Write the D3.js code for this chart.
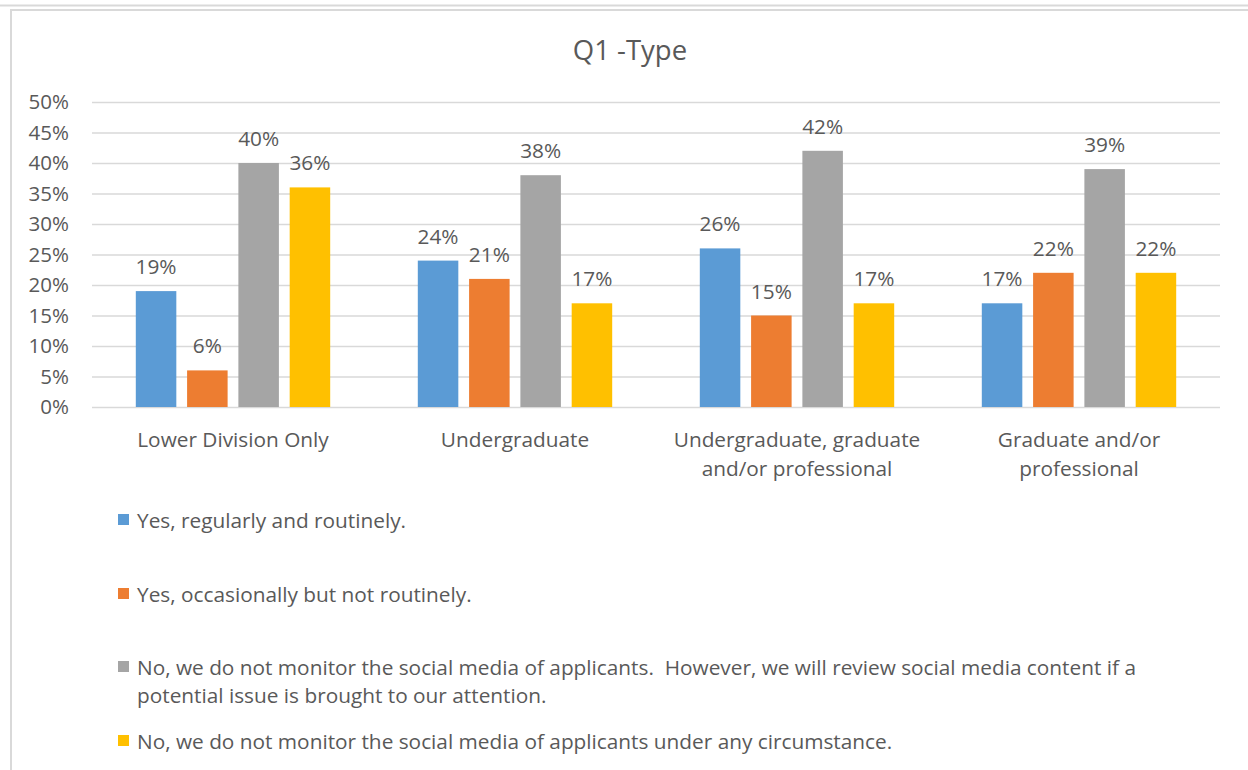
<!DOCTYPE html>
<html>
<head>
<meta charset="utf-8">
<script src="https://cdn.jsdelivr.net/npm/d3@7"></script>
<style>
  html, body { margin: 0; padding: 0; background: #fff; }
  svg { display: block; font-family: "Open Sans", sans-serif; }
  text { white-space: pre; }
</style>
</head>
<body>
<svg id="chart" width="1248" height="770"></svg>
<script>
const title = "Q1 -Type";
const categories = [
  "Lower Division Only",
  "Undergraduate",
  "Undergraduate, graduate\nand/or professional",
  "Graduate and/or\nprofessional"
];
const seriesNames = [
  "Yes, regularly and routinely.",
  "Yes, occasionally but not routinely.",
  "No, we do not monitor the social media of applicants.  However, we will review social media content if a potential issue is brought to our attention.",
  "No, we do not monitor the social media of applicants under any circumstance."
];
const seriesColors = ["#5B9BD5", "#ED7D31", "#A5A5A5", "#FFC000"];
const yesRegularly   = [19, 24, 26, 17];
const yesOccasional  = [6, 21, 15, 22];
const noButReview    = [40, 38, 42, 39];
const noNever        = [36, 17, 17, 22];
const seriesValues = [yesRegularly, yesOccasional, noButReview, noNever];
const yTicks = [0, 5, 10, 15, 20, 25, 30, 35, 40, 45, 50];

const svg = d3.select("#chart");
const textColor = "#595959";
const gridColor = "#D9D9D9";
const fs = "20.8px";

// frame
svg.append("line").attr("x1", 0).attr("x2", 1248).attr("y1", 5.5).attr("y2", 5.5)
  .attr("stroke", gridColor).attr("stroke-width", 2);
svg.append("path").attr("d", "M11,770 V10 H1248")
  .attr("fill", "none").attr("stroke", gridColor).attr("stroke-width", 2);

const plot = { left: 92, right: 1220, top: 102, bottom: 407 };

const y = d3.scaleLinear().domain([0, 50]).range([plot.bottom, plot.top]);
const x0 = d3.scaleBand().domain(d3.range(categories.length)).range([plot.left, plot.right]).padding(0);
const innerPad = (x0.bandwidth() - 194.4) / 2;
const x1 = d3.scaleBand().domain(d3.range(seriesNames.length))
  .range([innerPad, x0.bandwidth() - innerPad]).paddingInner(0.21).paddingOuter(0);

// title
svg.append("text").attr("x", 630).attr("y", 60)
  .attr("text-anchor", "middle").attr("fill", textColor)
  .style("font-size", "27.5px").text(title);

// gridlines + y axis
const yAxis = d3.axisLeft(y).tickValues(yTicks).tickSize(-(plot.right - plot.left))
  .tickPadding(23).tickFormat(d => d + "%");
const gy = svg.append("g").attr("transform", `translate(${plot.left},0)`).call(yAxis);
gy.select(".domain").remove();
gy.selectAll(".tick line").attr("stroke", gridColor).attr("stroke-width", 1.4);
gy.selectAll(".tick text").attr("fill", textColor).style("font-size", "20.5px")
  .style("font-family", "'Open Sans', sans-serif");

// bars
const groups = svg.append("g").selectAll("g").data(categories).join("g")
  .attr("transform", (d, i) => `translate(${x0(i)},0)`);

groups.each(function(cat, ci) {
  const g = d3.select(this);
  seriesValues.forEach((vals, si) => {
    const v = vals[ci];
    g.append("rect")
      .attr("x", x1(si)).attr("width", x1.bandwidth())
      .attr("y", y(v)).attr("height", y(0) - y(v))
      .attr("fill", seriesColors[si]);
    g.append("text")
      .attr("x", x1(si) + x1.bandwidth() / 2).attr("y", y(v) - 17)
      .attr("text-anchor", "middle").attr("fill", textColor)
      .style("font-size", fs).text(v + "%");
  });
});

// category labels
groups.each(function(cat, ci) {
  const t = d3.select(this).append("text")
    .attr("x", x0.bandwidth() / 2).attr("y", 447)
    .attr("text-anchor", "middle").attr("fill", textColor).style("font-size", fs);
  cat.split("\n").forEach((line, li) => {
    t.append("tspan").attr("x", x0.bandwidth() / 2).attr("y", 447 + li * 29).text(line);
  });
});

// legend
const legendX = 118, legendTextX = 137, wrapWidth = 1050;
const legendBaselines = [528, 602, 675, 749];
seriesNames.forEach((name, si) => {
  const base = legendBaselines[si];
  svg.append("rect").attr("x", legendX).attr("y", base - 14).attr("width", 11).attr("height", 11)
    .attr("fill", seriesColors[si]);
  const t = svg.append("text").attr("x", legendTextX).attr("y", base)
    .attr("fill", textColor).style("font-size", fs);
  const words = name.split(" ");
  let line = [];
  let lineNo = 0;
  let tspan = t.append("tspan").attr("x", legendTextX).attr("y", base);
  words.forEach(w => {
    line.push(w);
    tspan.text(line.join(" "));
    if (tspan.node().getComputedTextLength() > wrapWidth && line.length > 1) {
      line.pop();
      tspan.text(line.join(" "));
      line = [w];
      lineNo++;
      tspan = t.append("tspan").attr("x", legendTextX).attr("y", base + lineNo * 28).text(w);
    }
  });
});
</script>
</body>
</html>
